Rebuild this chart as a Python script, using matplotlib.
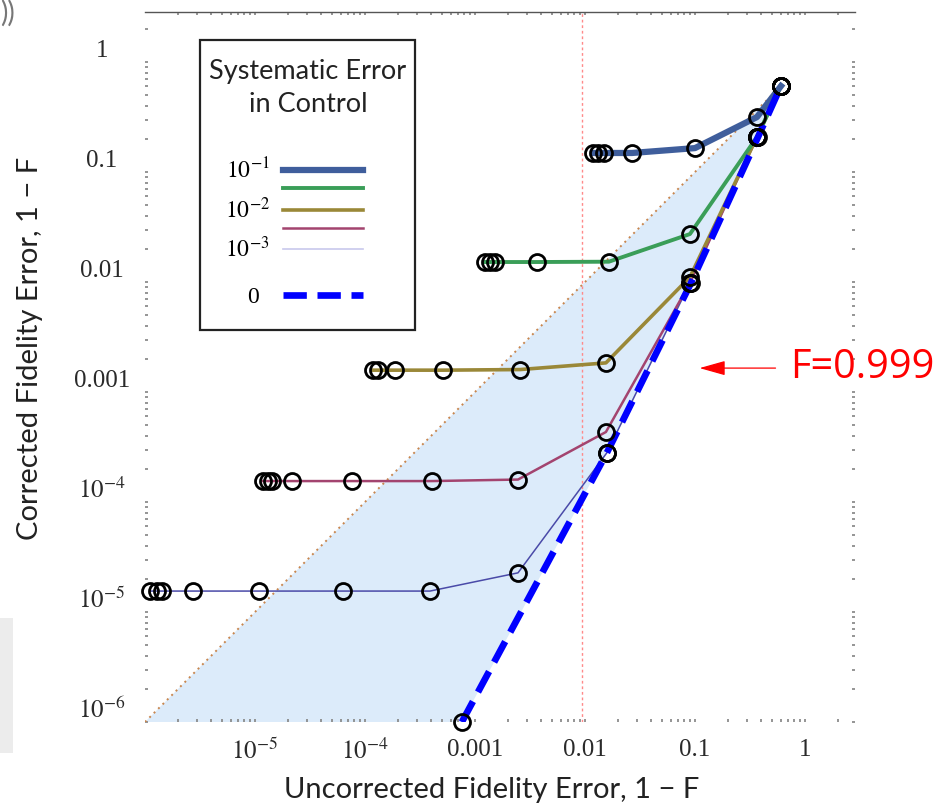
import matplotlib
matplotlib.use('Agg')
import matplotlib.pyplot as plt
from matplotlib.lines import Line2D
from matplotlib.patches import Rectangle
from matplotlib.transforms import ScaledTranslation

plt.rcParams['font.family'] = ['Lato', 'DejaVu Sans']
plt.rcParams['mathtext.fontset'] = 'stix'

# ---------------- data ----------------
# systematic error 1e-1
x_sys1 = [0.0118, 0.0132, 0.0148, 0.0267, 0.100, 0.366, 0.605]
y_sys1 = [0.149, 0.149, 0.149, 0.149, 0.165, 0.316, 0.605]
# systematic error 10^-1.5
x_sys15 = [1.23e-3, 1.37e-3, 1.52e-3, 3.66e-3, 0.0165, 0.090, 0.366, 0.605]
y_sys15 = [0.0152, 0.0152, 0.0152, 0.0152, 0.0153, 0.0273, 0.208, 0.605]
# systematic error 1e-2
x_sys2 = [1.18e-4, 1.31e-4, 1.87e-4, 5.12e-4, 2.56e-3, 0.0155, 0.090, 0.366, 0.605]
y_sys2 = [1.58e-3, 1.58e-3, 1.58e-3, 1.58e-3, 1.60e-3, 1.84e-3, 0.0111, 0.208, 0.605]
# systematic error 10^-2.5
x_sys25 = [1.18e-5, 1.31e-5, 1.43e-5, 2.17e-5, 7.62e-5, 4.06e-4, 2.46e-3, 0.0155,
           0.090, 0.366, 0.605]
y_sys25 = [1.55e-4, 1.55e-4, 1.55e-4, 1.55e-4, 1.55e-4, 1.55e-4, 1.60e-4, 4.33e-4,
           0.0098, 0.208, 0.605]
# systematic error 1e-3
x_sys3 = [1.11e-6, 1.29e-6, 1.43e-6, 2.73e-6, 1.09e-5, 6.31e-5, 3.90e-4, 2.46e-3,
          0.0158, 0.090, 0.366, 0.605]
y_sys3 = [1.55e-5, 1.55e-5, 1.55e-5, 1.55e-5, 1.55e-5, 1.55e-5, 1.55e-5, 2.27e-5,
          2.80e-4, 0.0098, 0.208, 0.605]
# no systematic error
x_sys0 = [7.6e-4, 0.0158, 0.092, 0.374, 0.605]
y_sys0 = [1.0e-6, 2.8e-4, 0.0098, 0.208, 0.605]

x_ticks = [1e-5, 1e-4, 1e-3, 1e-2, 1e-1, 1]
x_ticklabels = ['$10^{-5}$', '$10^{-4}$', '0.001', '0.01', '0.1', '1']
y_ticks = [1e-6, 1e-5, 1e-4, 1e-3, 1e-2, 1e-1, 1]
y_ticklabels = ['$10^{-6}$', '$10^{-5}$', '$10^{-4}$', '0.001', '0.01', '0.1', '1']

legend_title = 'Systematic Error\nin Control'
legend_labels = ['$10^{-1}$', '', '$10^{-2}$', '', '$10^{-3}$']
legend_label_zero = '0'

threshold_x = 0.0094      # red dotted vertical line
arrow_y = 1.65e-3         # F = 0.999 arrow
lim_lo, lim_hi = 1e-6, 2.85

# ---------------- styles ----------------
c_blue = '#3f5e9c'
c_green = '#3a9e58'
c_gold = '#9a8838'
c_mag = '#a3446f'
c_lav = '#4a4aa8'
c_lav_leg = '#c8c8ec'
c_dash = '#0000ff'

fig = plt.figure(figsize=(9.45, 8.07), dpi=100)
ax = fig.add_axes([145/945, 85/807, 710/945, 710/807])
ax.set_xscale('log')
ax.set_yscale('log')
ax.set_xlim(lim_lo, lim_hi)
ax.set_ylim(lim_lo, lim_hi)


def px(xp, yp):
    """reference pixel position -> axes fraction"""
    return ((xp - 145) / 710, (722 - yp) / 710)


# shaded region between the diagonal and the zero-error curve
poly_x = [lim_lo, x_sys0[-1]] + x_sys0[::-1] + [lim_lo]
poly_y = [lim_lo, y_sys0[-1]] + y_sys0[::-1] + [lim_lo]
ax.fill(poly_x, poly_y, color='#dcebfa', lw=0, zorder=1)
ax.plot([lim_lo, x_sys0[-1]], [lim_lo, y_sys0[-1]], ls=(0, (1, 2.2)), color='#c8864e',
        lw=1.4, zorder=2)
ax.axvline(threshold_x, color='#ff8a8a', ls=(0, (2, 2)), lw=1.0, zorder=2)

mk = dict(marker='o', markersize=11.5, markerfacecolor='none', markeredgecolor='black',
          markeredgewidth=2.0)
ax.plot(x_sys3, y_sys3, color=c_lav, lw=1.1, zorder=3)
ax.plot(x_sys25, y_sys25, color=c_mag, lw=1.8, zorder=3)
ax.plot(x_sys2, y_sys2, color=c_gold, lw=2.6, zorder=3)
ax.plot(x_sys15, y_sys15, color=c_green, lw=2.8, zorder=3)
ax.plot(x_sys1, y_sys1, color=c_blue, lw=4.5, zorder=3)
ax.plot(x_sys0, y_sys0, color=c_dash, lw=4.8, dashes=(3.5, 1.6), zorder=4)
for xs, ys in [(x_sys3, y_sys3), (x_sys25, y_sys25), (x_sys2, y_sys2),
               (x_sys15, y_sys15), (x_sys1, y_sys1), (x_sys0, y_sys0)]:
    ax.plot(xs, ys, ls='none', zorder=5, clip_on=False, **mk)

# axes frame / ticks
for s in ['left', 'right', 'bottom']:
    ax.spines[s].set_visible(False)
ax.spines['top'].set_color('#555555')
ax.spines['top'].set_linewidth(1.0)
ax.set_xticks(x_ticks)
ax.set_xticklabels(x_ticklabels)
ax.set_yticks(y_ticks)
ax.set_yticklabels(y_ticklabels)
ax.tick_params(which='both', direction='in', length=2.5, width=1.3, color='#8c8c8c',
               top=True, right=True, labeltop=False, labelright=False)
ax.tick_params(axis='x', which='major', pad=12, labelsize=18)
ax.tick_params(axis='y', which='major', pad=31, labelsize=18)
for lbl in ax.get_xticklabels() + ax.get_yticklabels():
    lbl.set_fontfamily(['Liberation Serif', 'DejaVu Serif'])
    lbl.set_color('#2a2a2a')
for t in ax.yaxis.get_major_ticks():
    t.label1.set_horizontalalignment('center')
    t.label1.set_transform(t.label1.get_transform() +
                           ScaledTranslation(0, 14/100, fig.dpi_scale_trans))

ax.set_xlabel('Uncorrected Fidelity Error, 1 \u2212 F', fontsize=21, color='#222222')
ax.set_ylabel('Corrected Fidelity Error, 1 \u2212 F', fontsize=21, color='#222222')
ax.xaxis.set_label_coords(*px(492, 790))
ax.xaxis.label.set_va('center')
ax.yaxis.set_label_coords(*px(30, 348))
ax.yaxis.label.set_va('center')

# F = 0.999 annotation
ax.annotate('', xy=(0.11, arrow_y), xytext=(0.54, arrow_y),
            arrowprops=dict(arrowstyle='-|>,head_length=1.6,head_width=0.45',
                            color='red', lw=0.9, shrinkA=0, shrinkB=0),
            annotation_clip=False, zorder=6)
ax.text(0.74, arrow_y, 'F=0.999', color='red', fontsize=28.5, va='center', ha='left',
        clip_on=False, family=['Open Sans', 'DejaVu Sans'])

# legend: box, title, entries
x0, y0 = px(200, 330)
ax.add_patch(Rectangle((x0, y0), 215/710, 290/710, transform=ax.transAxes,
                       facecolor='white', edgecolor='#222222', lw=1.6, zorder=6))
ax.text(*px(308, 88), legend_title, transform=ax.transAxes, ha='center', va='center',
        multialignment='center', linespacing=1.45, fontsize=19.5, color='#222222',
        zorder=8)
handles = [Line2D([], [], color=c_blue, lw=4.5),
           Line2D([], [], color=c_green, lw=2.8),
           Line2D([], [], color=c_gold, lw=2.6),
           Line2D([], [], color=c_mag, lw=1.8),
           Line2D([], [], color=c_lav_leg, lw=1.2)]
leg_kw = dict(markerfirst=False, handlelength=3.4, borderpad=0.0, borderaxespad=0.0,
              frameon=False,
              prop=dict(family=['Liberation Serif', 'DejaVu Serif'], size=17))
leg1 = ax.legend(handles, legend_labels, loc='upper right',
                 bbox_to_anchor=px(363, 158), handletextpad=0.55,
                 labelspacing=-0.16, **leg_kw)
leg1.set_zorder(8)
ax.add_artist(leg1)
leg2 = ax.legend([Line2D([], [], color=c_dash, lw=4.8, dashes=(3.5, 1.6))],
                 [legend_label_zero], loc='center right', bbox_to_anchor=px(363, 297),
                 handletextpad=1.0, **leg_kw)
leg2.set_zorder(8)

# screenshot artefacts
fig.text(0.0, 1.0, '))', fontsize=20, color='#777777', ha='left', va='top')
fig.patches.append(Rectangle((0, 54/807), 13/945, 135/807, transform=fig.transFigure,
                             facecolor='#ececec', edgecolor='none'))

fig.savefig('out.png', dpi=100)
